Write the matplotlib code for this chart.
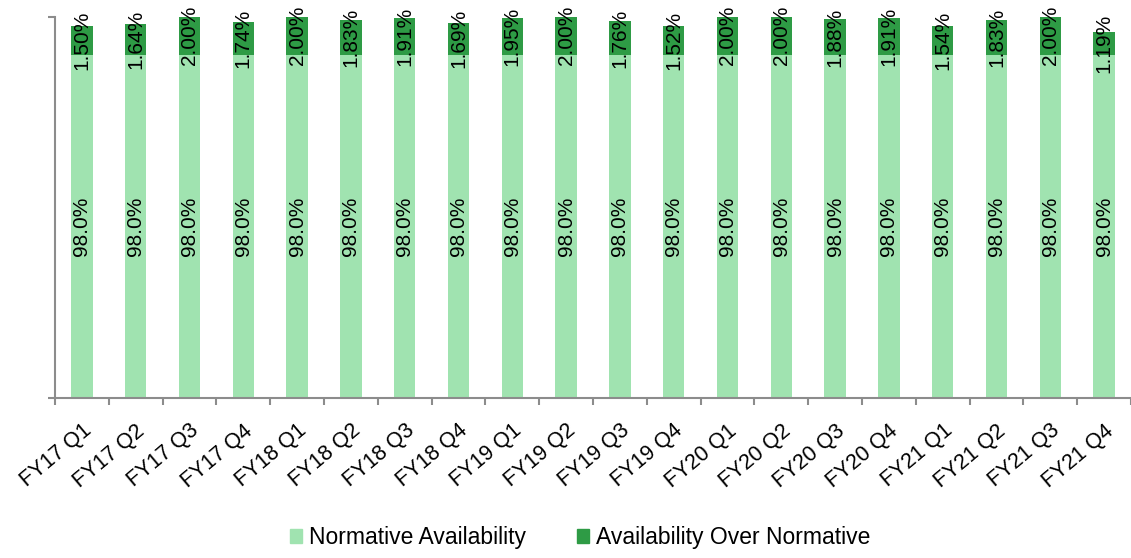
import numpy as np
import matplotlib.pyplot as plt
from matplotlib.patches import Patch

plt.rcParams['font.family'] = ['Liberation Sans', 'DejaVu Sans']

# Quarterly availability data
quarters = ['FY17 Q1', 'FY17 Q2', 'FY17 Q3', 'FY17 Q4',
            'FY18 Q1', 'FY18 Q2', 'FY18 Q3', 'FY18 Q4',
            'FY19 Q1', 'FY19 Q2', 'FY19 Q3', 'FY19 Q4',
            'FY20 Q1', 'FY20 Q2', 'FY20 Q3', 'FY20 Q4',
            'FY21 Q1', 'FY21 Q2', 'FY21 Q3', 'FY21 Q4']
normative = [98.0] * 20
over_normative = [1.50, 1.64, 2.00, 1.74,
                  2.00, 1.83, 1.91, 1.69,
                  1.95, 2.00, 1.76, 1.52,
                  2.00, 2.00, 1.88, 1.91,
                  1.54, 1.83, 2.00, 1.19]

light_green = '#A0E3B0'
dark_green = '#2E9B45'
axis_grey = '#8C8C8C'
y_min = 80

fig = plt.figure(figsize=(11.31, 5.58), dpi=100)
ax = fig.add_axes([0.0486, 0.2867, 0.9514, 0.6833])

x = np.arange(len(quarters))
width = 0.4
base = np.array(normative)
top = np.array(over_normative)

ax.bar(x, base - y_min, width, bottom=y_min, color=light_green, linewidth=0)
ax.bar(x, top, width, bottom=base, color=dark_green, linewidth=0)

# value labels, rotated, centred in each segment
for xi, b, t in zip(x, base, top):
    ax.text(xi, (y_min + b) / 2, f'{b:.1f}%', rotation=90, ha='center', va='center',
            fontsize=15, color='black')
    ax.text(xi, b + t / 2, f'{t:.2f}%', rotation=90, ha='center', va='center',
            fontsize=15, color='black')

ax.set_xlim(-0.5, len(quarters) - 0.5)
ax.set_ylim(y_min, 100)

# axis styling
for side in ['top', 'right']:
    ax.spines[side].set_visible(False)
for side in ['left', 'bottom']:
    ax.spines[side].set_color(axis_grey)
    ax.spines[side].set_linewidth(1.5)

ax.set_yticks([y_min, 100])
ax.set_yticklabels([])
ax.tick_params(axis='y', length=5, width=1.5, color=axis_grey)

ax.set_xticks(x)
ax.set_xticklabels(quarters, rotation=40, ha='right', rotation_mode='anchor', fontsize=15.5)
ax.tick_params(axis='x', which='major', length=0, pad=16)
ax.set_xticks(np.arange(len(quarters) + 1) - 0.5, minor=True)
ax.tick_params(axis='x', which='minor', length=5, width=1.5, color=axis_grey)

handles = [Patch(color=light_green, label='Normative Availability'),
           Patch(color=dark_green, label='Availability Over Normative')]
fig.legend(handles=handles, loc='center', bbox_to_anchor=(0.513, 0.037), ncol=2,
           frameon=False, fontsize=16.5, handlelength=0.55, handleheight=0.55,
           handletextpad=0.3, columnspacing=2.2)

fig.savefig('out.png', dpi=100)
